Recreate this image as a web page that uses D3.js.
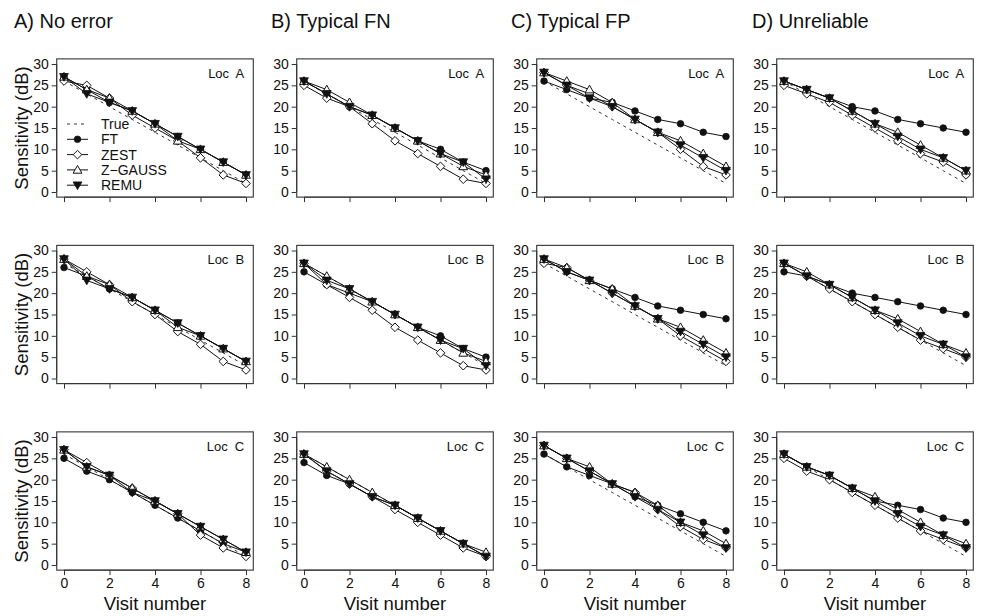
<!DOCTYPE html>
<html><head><meta charset="utf-8">
<script src="https://cdn.jsdelivr.net/npm/d3@7"></script>
<style>
body{margin:0;background:#fff;}
text{font-family:"Liberation Sans",Arial,Helvetica,sans-serif;fill:#111;}
</style></head>
<body><svg id="chart" width="981" height="616"></svg>
<script>
// ---- data ----
const visits = [0,1,2,3,4,5,6,7,8];
const columnTitles = ["A) No error","B) Typical FN","C) Typical FP","D) Unreliable"];
const locations = ["Loc  A","Loc  B","Loc  C"];
const methods = ["True","FT","ZEST","Z-GAUSS","REMU"];
const yTicks = [0,5,10,15,20,25,30];
const xTicks = [0,2,4,6,8];

const trueA = [26,23,20,17,14,11,8,5,2];
const trueB = [27,24,21,18,15,12,9,6,3];
const trueC = [26,23,20,17,14,11,8,5,2];

// Loc A, columns A..D
const ftA1 = [27,24,21,19,16,13,10,7,4];
const zestA1 = [26,25,22,18,15,12,8,4,2];
const zgA1 = [27,24,22,19,16,12,10,7,4];
const remuA1 = [27,23,21,19,16,13,10,7,4];

const ftB1 = [26,23,20,18,15,12,10,7,5];
const zestB1 = [25,22,20,16,12,9,6,3,2];
const zgB1 = [26,24,21,18,15,12,9,6,4];
const remuB1 = [26,23,20,18,15,12,9,7,3];

const ftC1 = [26,24,22,21,19,17,16,14,13];
const zestC1 = [28,25,23,20,17,14,10,6,4];
const zgC1 = [28,26,24,21,17,14,12,9,6];
const remuC1 = [28,25,22,20,17,14,11,8,5];

const ftD1 = [26,24,22,20,19,17,16,15,14];
const zestD1 = [25,23,21,18,15,12,9,7,4];
const zgD1 = [26,24,22,19,16,14,11,8,5];
const remuD1 = [26,24,22,19,16,13,10,8,5];

// Loc B
const ftA2 = [26,24,21,19,16,13,10,7,4];
const zestA2 = [28,25,22,18,15,11,8,4,2];
const zgA2 = [28,24,22,19,16,12,10,7,4];
const remuA2 = [28,23,21,19,16,13,10,7,4];

const ftB2 = [25,22,20,18,15,12,10,7,5];
const zestB2 = [27,22,19,16,12,9,6,3,2];
const zgB2 = [27,24,21,18,15,12,9,6,4];
const remuB2 = [27,23,21,18,15,12,9,7,3];

const ftC2 = [28,25,23,21,19,17,16,15,14];
const zestC2 = [27,26,23,20,17,14,10,7,4];
const zgC2 = [28,26,23,21,17,14,12,9,6];
const remuC2 = [28,25,23,20,17,14,11,8,5];

const ftD2 = [25,24,22,20,19,18,17,16,15];
const zestD2 = [27,24,21,18,15,12,9,7,5];
const zgD2 = [27,25,22,19,16,14,11,8,6];
const remuD2 = [27,24,22,19,16,13,10,8,5];

// Loc C
const ftA3 = [25,22,20,17,14,11,8,5,3];
const zestA3 = [27,24,21,18,15,12,7,4,2];
const zgA3 = [27,23,21,18,15,12,9,6,3];
const remuA3 = [27,23,21,17,15,12,9,6,3];

const ftB3 = [24,21,19,16,14,11,8,5,2];
const zestB3 = [26,22,19,16,13,10,7,4,2];
const zgB3 = [26,23,20,17,14,11,8,5,3];
const remuB3 = [26,22,19,16,14,11,8,5,2];

const ftC3 = [26,23,21,19,16,14,12,10,8];
const zestC3 = [28,25,22,19,17,13,9,6,4];
const zgC3 = [28,25,23,19,17,14,10,8,5];
const remuC3 = [28,25,22,19,16,13,10,7,4];

const ftD3 = [26,23,21,18,15,14,13,11,10];
const zestD3 = [25,22,20,17,14,11,8,6,4];
const zgD3 = [26,23,21,18,16,13,10,7,5];
const remuD3 = [26,23,21,18,15,12,9,7,4];

const panels = [
  [ [trueA,ftA1,zestA1,zgA1,remuA1],[trueA,ftB1,zestB1,zgB1,remuB1],[trueA,ftC1,zestC1,zgC1,remuC1],[trueA,ftD1,zestD1,zgD1,remuD1] ],
  [ [trueB,ftA2,zestA2,zgA2,remuA2],[trueB,ftB2,zestB2,zgB2,remuB2],[trueB,ftC2,zestC2,zgC2,remuC2],[trueB,ftD2,zestD2,zgD2,remuD2] ],
  [ [trueC,ftA3,zestA3,zgA3,remuA3],[trueC,ftB3,zestB3,zgB3,remuB3],[trueC,ftC3,zestC3,zgC3,remuC3],[trueC,ftD3,zestD3,zgD3,remuD3] ]
];

// ---- layout ----
const svg = d3.select("#chart");
const colX0 = [64,304,544,784];
const plotW = 182;
const rowY30 = [64,250.5,437];
const plotH = 128;
const titleX = [14,271,511,752];
const ink = "#111";

function marker(g, type, x, y){
  if(type==="FT"){
    g.append("circle").attr("cx",x).attr("cy",y).attr("r",3.3).attr("fill",ink).attr("stroke",ink).attr("stroke-width",0.8);
  } else if(type==="ZEST"){
    const d=4.3;
    g.append("path").attr("d",`M${x},${y-d}L${x+d},${y}L${x},${y+d}L${x-d},${y}Z`)
     .attr("fill","#fff").attr("stroke",ink).attr("stroke-width",1);
  } else if(type==="Z-GAUSS"){
    const h=4.4;
    g.append("path").attr("d",`M${x},${y-h}L${x+h},${y+h*0.75}L${x-h},${y+h*0.75}Z`)
     .attr("fill","#fff").attr("stroke",ink).attr("stroke-width",1);
  } else if(type==="REMU"){
    const h=4.4;
    g.append("path").attr("d",`M${x},${y+h}L${x+h},${y-h*0.75}L${x-h},${y-h*0.75}Z`)
     .attr("fill",ink).attr("stroke",ink).attr("stroke-width",0.8);
  }
}

panels.forEach((row,ri)=>{
  row.forEach((series,ci)=>{
    const x = d3.scaleLinear().domain([0,8]).range([colX0[ci],colX0[ci]+plotW]);
    const y = d3.scaleLinear().domain([0,30]).range([rowY30[ri]+plotH,rowY30[ri]]);
    const g = svg.append("g");
    const bx0=x(-0.32), bx1=x(8.32), by0=y(31.2), by1=y(-1.2);
    g.append("rect").attr("x",bx0).attr("y",by0).attr("width",bx1-bx0).attr("height",by1-by0)
      .attr("fill","none").attr("stroke","#333").attr("stroke-width",1.1);
    const ya = d3.axisLeft(y).tickValues(yTicks).tickSize(5).tickPadding(3);
    const yg = g.append("g").attr("transform",`translate(${bx0},0)`).call(ya);
    yg.select(".domain").attr("d",`M-0.01,${y(0)}V${y(30)}`).attr("stroke","#333");
    yg.selectAll("line").attr("stroke","#333");
    yg.selectAll("text").attr("font-size",14).attr("fill","#222").style("font-family","Liberation Sans, Arial, sans-serif");
    const xa = d3.axisBottom(x).tickValues(xTicks).tickSize(5).tickPadding(3);
    if(ri<2) xa.tickFormat("");
    const xg = g.append("g").attr("transform",`translate(0,${by1})`).call(xa);
    xg.select(".domain").attr("d",`M${x(0)},0.01H${x(8)}`).attr("stroke","#333");
    xg.selectAll("line").attr("stroke","#333");
    xg.selectAll("text").attr("font-size",14).attr("fill","#222").style("font-family","Liberation Sans, Arial, sans-serif");

    const line = d3.line().x((d,i)=>x(visits[i])).y(d=>y(d));
    g.append("path").datum(series[0]).attr("d",line).attr("fill","none")
      .attr("stroke","#333").attr("stroke-width",1).attr("stroke-dasharray","3,4");
    for(let m=1;m<methods.length;m++){
      g.append("path").datum(series[m]).attr("d",line).attr("fill","none")
        .attr("stroke",ink).attr("stroke-width",1);
      series[m].forEach((v,i)=>marker(g,methods[m],x(visits[i]),y(v)));
    }
    g.append("text").attr("x",bx1-9).attr("y",by0+19).attr("text-anchor","end")
      .attr("font-size",13).text(locations[ri]).style("white-space","pre");

    if(ci===0){
      g.append("text").attr("transform",`translate(28,${(by0+by1)/2}) rotate(-90)`)
        .attr("text-anchor","middle").attr("font-size",18.5).text("Sensitivity (dB)");
    }
    if(ri===2){
      g.append("text").attr("x",(x(0)+x(8))/2).attr("y",610).attr("text-anchor","middle")
        .attr("font-size",18.5).text("Visit number");
    }
    if(ri===0){
      svg.append("text").attr("x",titleX[ci]).attr("y",28).attr("font-size",20).text(columnTitles[ci]);
    }
    if(ri===0 && ci===0){
      const ly=[124,139.3,154.6,169.9,185.2];
      const lg = svg.append("g");
      methods.forEach((m,k)=>{
        if(m==="True"){
          lg.append("line").attr("x1",67).attr("x2",88).attr("y1",ly[k]).attr("y2",ly[k])
            .attr("stroke","#333").attr("stroke-dasharray","3,4");
        } else {
          lg.append("line").attr("x1",67).attr("x2",88).attr("y1",ly[k]).attr("y2",ly[k]).attr("stroke",ink);
          marker(lg,m,77.5,ly[k]);
        }
        lg.append("text").attr("x",101).attr("y",ly[k]+5).attr("font-size",14).text(m==="Z-GAUSS"?"Z\u2212GAUSS":m);
      });
    }
  });
});
</script></body></html>
